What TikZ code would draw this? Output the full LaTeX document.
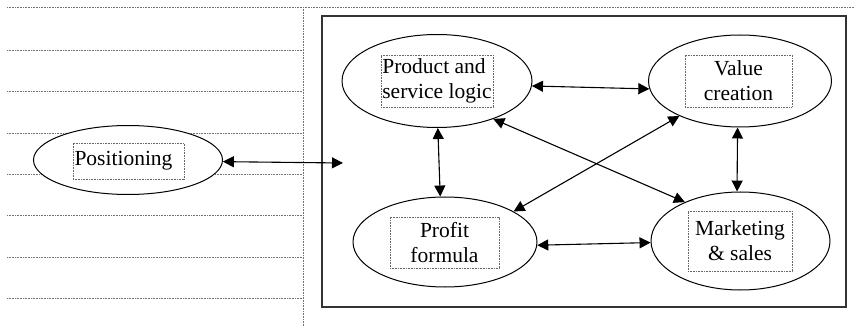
\documentclass[tikz,border=0pt]{standalone}
\usepackage{fontspec}
\setmainfont{Liberation Serif}
\usetikzlibrary{arrows.meta,shapes.geometric}
\begin{document}
\begin{tikzpicture}[x=1pt,y=-1pt,
  rule/.style={black!55, line width=0.7pt, dash pattern=on 0.8pt off 0.8pt},
  oval/.style={ellipse, draw, line width=1pt, fill=white, inner sep=0pt},
  lbl/.style={draw=black!60, line width=0.6pt, dash pattern=on 0.8pt off 0.8pt,
    inner sep=0pt, font=\fontsize{21.5}{25}\selectfont, align=center},
  tip/.style={Triangle[length=11pt,width=11pt]},
  link/.style={line width=1.1pt, {Triangle[length=11pt,width=11pt]}-{Triangle[length=11pt,width=11pt]}},
]
\useasboundingbox (0,0) rectangle (855,326);
% ruled background
\foreach \yy in {50,91,133,174,215,257,298}
  \draw[rule] (7,\yy) -- (303,\yy);
\draw[rule] (7,7) -- (855,7);
\draw[rule] (303,7) -- (303,326);
% frame
\draw[line width=1.5pt, black!80] (322,16) rectangle (846,307);
% ellipses
\node[oval, minimum width=189pt, minimum height=69pt] (pos) at (128,160) {};
\node[oval, minimum width=190pt, minimum height=93pt] (prod) at (437,81) {};
\node[oval, minimum width=183pt, minimum height=92pt] (val) at (740,81) {};
\node[oval, minimum width=179pt, minimum height=98pt] (mkt) at (740.5,241) {};
\node[oval, minimum width=184pt, minimum height=90pt] (prof) at (445,242) {};
% labels
\node[lbl, minimum width=111pt, minimum height=36pt, align=left] (tpos) at (128.5,161) {Positioning\hspace{10pt}};
\node[lbl, minimum width=112pt, minimum height=52pt, align=left] (tprod) at (437,81) {Product and\\service logic};
\node[lbl, minimum width=107pt, minimum height=52pt] (tval) at (738.5,81) {Value\\creation};
\node[lbl, minimum width=104pt, minimum height=60pt] (tmkt) at (740,241) {Marketing\\\&\ sales};
\node[lbl, minimum width=109pt, minimum height=51pt] (tprof) at (444.5,242.5) {Profit\\formula};
% connectors
\coordinate (inbox) at (343,163);
\draw[link] (pos.-1.2) -- (inbox);
\draw[link] (prod.-3.6) -- (val.-175);
\draw[link] (prod.-89) -- (prof.96);
\draw[link] (prod.-34.7) -- (mkt.145.4);
\draw[link] (val.-150.2) -- (prof.24);
\draw[link] (val.-93.7) -- (mkt.94);
\draw[link] (prof.-2.5) -- (mkt.181.9);
\end{tikzpicture}
\end{document}
